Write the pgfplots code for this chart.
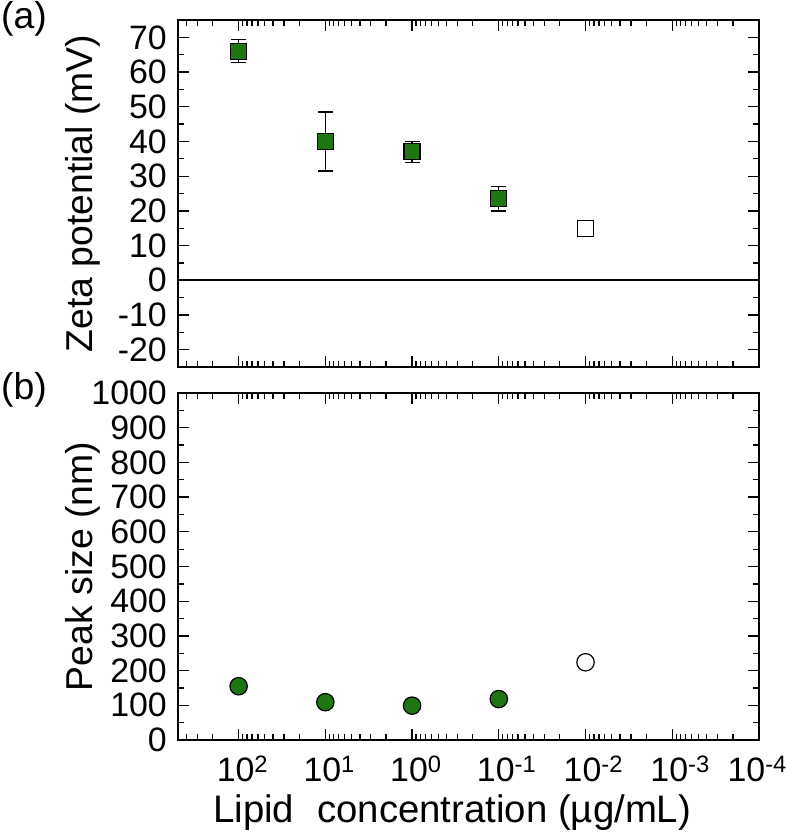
\documentclass[border=0pt]{standalone}
\usepackage{fontspec}
\setmainfont{Liberation Sans}
\usepackage{pgfplots}
\pgfplotsset{compat=1.18}
\definecolor{dgreen}{RGB}{30,118,18}

\pgfplotsset{
  every axis/.append style={
    scale only axis, width=581bp, height=347bp,
    tick align=inside, xtick pos=both, ytick pos=both,
    minor y tick num=1,
    major tick length=11bp, minor tick length=6bp,
    axis line style={line width=1.5bp},
    every tick/.style={black, line width=1.3bp},
    tick label style={font=\fontsize{34}{34}\selectfont},
    yticklabel style={anchor=east, inner sep=0pt, xshift=-11bp},
    yticklabel={\pgfmathprintnumber[assume math mode=true, set thousands separator={}]{\tick}},
    label style={font=\fontsize{37.5}{37.5}\selectfont},
    ylabel style={at={(axis description cs:-0.1463,0.5)}, anchor=base},
    clip=false,
  },
}

\begin{document}
\begin{tikzpicture}
% (a) zeta potential
\begin{axis}[name=top, at={(0,0)}, anchor=north west,
  xmode=log, x dir=reverse, xmin=1e-4, xmax=500,
  xtick={1e-4,1e-3,1e-2,1e-1,1,10,100},
  minor xtick={2e-4,3e-4,4e-4,5e-4,6e-4,7e-4,8e-4,9e-4,
               2e-3,3e-3,4e-3,5e-3,6e-3,7e-3,8e-3,9e-3,
               2e-2,3e-2,4e-2,5e-2,6e-2,7e-2,8e-2,9e-2,
               0.2,0.3,0.4,0.5,0.6,0.7,0.8,0.9,
               2,3,4,5,6,7,8,9,
               20,30,40,50,60,70,80,90,
               200,300,400},
  ymin=-25, ymax=75, ytick={-20,-10,...,70},
  xticklabels={},
  ylabel={Zeta potential (mV)}]
  \addplot[black, line width=1.6bp] coordinates {(500,0) (1e-4,0)};
  \addplot[only marks, mark=square*, mark size=8bp,
    mark options={fill=dgreen, draw=black, line width=1.2bp},
    error bars/y dir=both, error bars/y explicit,
    error bars/error bar style={black, line width=1.3bp},
    error bars/error mark options={rotate=90, mark size=7.5bp, line width=1.3bp, black}]
    table[x=x, y=y, y error=e] {
      x    y    e
      100  66   3.3
      10   40   8.5
      1    37   3.0
      0.1  23.5 3.5
    };
  \addplot[only marks, mark=square*, mark size=8bp,
    mark options={fill=white, draw=black, line width=1.2bp}] coordinates {(0.01,15)};
\end{axis}

% (b) peak size
\begin{axis}[name=bot, at={(0,-373bp)}, anchor=north west,
  xmode=log, x dir=reverse, xmin=1e-4, xmax=500,
  xtick={1e-4,1e-3,1e-2,1e-1,1,10,100},
  minor xtick={2e-4,3e-4,4e-4,5e-4,6e-4,7e-4,8e-4,9e-4,
               2e-3,3e-3,4e-3,5e-3,6e-3,7e-3,8e-3,9e-3,
               2e-2,3e-2,4e-2,5e-2,6e-2,7e-2,8e-2,9e-2,
               0.2,0.3,0.4,0.5,0.6,0.7,0.8,0.9,
               2,3,4,5,6,7,8,9,
               20,30,40,50,60,70,80,90,
               200,300,400},
  ymin=0, ymax=1000, ytick={0,100,...,1000},
  xticklabels={\hspace*{-19bp}10\rlap{\textsuperscript{-4}},10\rlap{\textsuperscript{-3}},
               10\rlap{\textsuperscript{-2}},10\rlap{\textsuperscript{-1}},
               10\rlap{\textsuperscript{0}},10\rlap{\textsuperscript{1}},
               10\rlap{\textsuperscript{2}}},
  xticklabel style={anchor=base, inner sep=0pt, yshift=-41bp, xshift=-3bp},
  ylabel={Peak size (nm)},
  xlabel={Lipid\hspace{0.6em}concentration (µg/mL)},
  xlabel style={at={(axis description cs:0.472,-0.2363)}, anchor=base,
                font=\fontsize{38.5}{38.5}\selectfont}]
  \addplot[only marks, mark=*, mark size=8.7bp,
    mark options={fill=dgreen, draw=black, line width=1.2bp}] coordinates {
    (100,155) (10,109) (1,99) (0.1,118)};
  \addplot[only marks, mark=*, mark size=8.7bp,
    mark options={fill=white, draw=black, line width=1.2bp}] coordinates {(0.01,224)};
\end{axis}

\node[anchor=base west, inner sep=0pt, font=\fontsize{37.5}{37.5}\selectfont] at (-177bp,-8bp) {(a)};
\node[anchor=base west, inner sep=0pt, font=\fontsize{37.5}{37.5}\selectfont] at (-177bp,-379bp) {(b)};

\pgfresetboundingbox
\path (-178bp,20bp) rectangle (609bp,-814bp);
\end{tikzpicture}
\end{document}
